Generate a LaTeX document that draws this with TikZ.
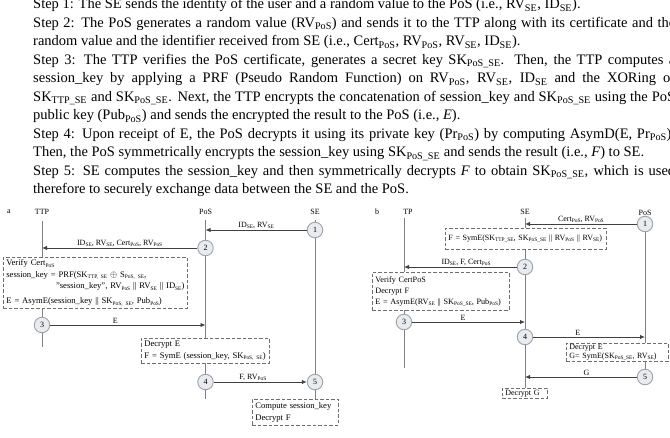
\documentclass[tikz,border=0pt]{standalone}
\usepackage{fontspec}
\setmainfont{Liberation Serif}
\usetikzlibrary{arrows.meta,backgrounds}
\definecolor{lifec}{HTML}{808080}
\definecolor{arrc}{HTML}{404040}
\definecolor{circf}{HTML}{E8EBEF}
\definecolor{circd}{HTML}{9EA3AA}
\definecolor{boxd}{HTML}{6E6E6E}
\newcommand{\sbs}[1]{\textsubscript{#1}}
\newcommand{\dsub}[1]{\raisebox{-1.3pt}{\fontsize{5.4}{6}\selectfont #1}}
\newcommand{\jline}[1]{\hbox to 642pt{#1}}
\begin{document}
\begin{tikzpicture}[x=1pt,y=-1pt,
 para/.style={anchor=base west, inner sep=0, font=\fontsize{14.5}{18}\selectfont},
 lbl/.style={font=\fontsize{8}{9}\selectfont, inner sep=0},
 msg/.style={font=\fontsize{8}{9}\selectfont, inner sep=1pt, above},
 life/.style={draw=lifec, line width=0.9pt},
 arr/.style={draw=arrc, line width=0.9pt, -{Latex[length=5pt,width=4.5pt]}},
 stepc/.style={circle, draw=circd, fill=circf, line width=0.9pt, minimum size=15.5pt, inner sep=0, font=\fontsize{8}{9}\selectfont},
 dbox/.style={draw=boxd, line width=0.8pt, dash pattern=on 3.5pt off 2pt, fill=white, anchor=north west, align=left, inner xsep=3pt, inner ysep=1pt, font=\fontsize{8}{11.5}\selectfont},
 bigbox/.style={dbox, font=\fontsize{8.6}{11.5}\selectfont},
]
\useasboundingbox (0,0) rectangle (670,438);
% ---------- text ----------
\node[para] (t1) at (33,9) {Step 1: The SE sends the identity of the user and a random value to the PoS (i.e., RV\sbs{SE}, ID\sbs{SE}).};
\node[para] (t2) at (33,27.5) {\jline{Step 2: The PoS generates a random value (RV\sbs{PoS}) and sends it to the TTP along with its certificate and the}};
\node[para] (t3) at (33,46) {random value and the identifier received from SE (i.e., Cert\sbs{PoS}, RV\sbs{PoS}, RV\sbs{SE}, ID\sbs{SE}).};
\node[para] (t4) at (33,64.5) {\jline{Step 3: The TTP verifies the PoS certificate, generates a secret key SK\sbs{PoS\_SE}. Then, the TTP computes a}};
\node[para] (t5) at (33,83) {\jline{session\_key by applying a PRF (Pseudo Random Function) on RV\sbs{PoS}, RV\sbs{SE}, ID\sbs{SE} and the XORing of}};
\node[para] (t6) at (33,101.5) {\jline{SK\sbs{TTP\_SE} and SK\sbs{PoS\_SE}. Next, the TTP encrypts the concatenation of session\_key and SK\sbs{PoS\_SE} using the PoS}};
\node[para] (t7) at (33,120) {public key (Pub\sbs{PoS}) and sends the encrypted the result to the PoS (i.e., \textit{E}).};
\node[para] (t8) at (33,138.5) {\jline{Step 4: Upon receipt of E, the PoS decrypts it using its private key (Pr\sbs{PoS}) by computing AsymD(E, Pr\sbs{PoS}).}};
\node[para] (t9) at (33,157) {Then, the PoS symmetrically encrypts the session\_key using SK\sbs{PoS\_SE} and sends the result (i.e., \textit{F}) to SE.};
\node[para] (t10) at (33,175.5) {\jline{Step 5: SE computes the session\_key and then symmetrically decrypts \textit{F} to obtain SK\sbs{PoS\_SE}, which is used}};
\node[para] (t11) at (33,194) {therefore to securely exchange data between the SE and the PoS.};
% ---------- diagram a ----------
\node[lbl] (la) at (9,212) {a};
\node[lbl] (ttpA) at (42,212) {TTP};
\node[lbl] (posA) at (205.5,212) {PoS};
\node[lbl] (seA) at (315,212) {SE};
\node[stepc] (c1a) at (315,230) {1};
\node[stepc] (c2a) at (205.5,248) {2};
\node[stepc] (c3a) at (42,325) {3};
\node[stepc] (c4a) at (205.5,382) {4};
\node[stepc] (c5a) at (315,382) {5};
\node[bigbox, text width=178pt, minimum height=51pt] (bxa1) at (3,257) {\mbox{Verify Cert\dsub{PoS}}\\
\mbox{session\_key = PRF(SK\dsub{TTP, SE} $\oplus$ S\dsub{PoS, SE},}\\
\hspace*{\fill}\mbox{"session\_key", RV\dsub{PoS} || RV\dsub{SE} || ID\dsub{SE})}\\[3.5pt]
\mbox{E = AsymE(session\_key || SK\dsub{PoS, SE}, Pub\dsub{PoS})}};
\node[bigbox, text width=122pt, minimum height=25pt] (bxa2) at (141,338) {Decrypt E\\\mbox{F = SymE (session\_key, SK\dsub{PoS, SE})}};
\node[bigbox, text width=80pt, minimum height=26pt] (bxa3) at (252,399) {\mbox{Compute session\_key}\\Decrypt F};
\coordinate (ttpAtop) at (42,221);
\coordinate (ttpAend) at (42,347);
\coordinate (posAtop) at (205.5,220);
\coordinate (posAend) at (205.5,399);
\coordinate (seAtop) at (315,220);
\begin{scope}[on background layer]
\draw[life] (ttpAtop) -- (ttpAend);
\draw[life] (posAtop) -- (posAend);
\draw[life] (seAtop) -- (bxa3.north -| seAtop);
\end{scope}
\draw[arr] (c1a.west) -- (c1a.west -| posA) node[msg, midway] {ID\dsub{SE}, RV\dsub{SE}};
\draw[arr] (c2a.west) -- (c2a.west -| ttpA) node[msg, pos=0.5] {ID\dsub{SE}, RV\dsub{SE}, Cert\dsub{PoS}, RV\dsub{PoS}};
\draw[arr] (c3a.east) -- (c3a.east -| posA) node[msg, pos=0.42] {E};
\draw[arr] (c4a.east) -- (c5a.west) node[msg, pos=0.42] {F, RV\dsub{PoS}};
% ---------- diagram b ----------
\node[lbl] (lb) at (377,212) {b};
\node[lbl] (tpB) at (408,212) {TP};
\node[lbl] (seB) at (525,212) {SE};
\node[lbl] (posB) at (645,213) {PoS};
\coordinate (tpBtop) at (404,218);
\coordinate (tpBend) at (404,368);
\coordinate (seBtop) at (525,218);
\coordinate (posBtop) at (645,219);
\node[stepc] (c1b) at (645,224) {1};
\node[stepc] (c2b) at (525,267) {2};
\node[stepc] (c3b) at (404,322) {3};
\node[stepc] (c4b) at (525,337) {4};
\node[stepc] (c5b) at (645,377) {5};
\node[dbox, text width=155pt, minimum height=21pt] (bxb1) at (445,228) {\mbox{F = SymE(SK\dsub{TTP\_SE}, SK\dsub{PoS\_SE} || RV\dsub{PoS} || RV\dsub{SE})}};
\node[dbox, text width=131pt, minimum height=38pt, font=\fontsize{8.2}{11}\selectfont] (bxb2) at (372,272) {Verify CertPoS\\Decrypt F\\\mbox{E = AsymE(RV\dsub{SE} || SK\dsub{PoS\_SE}, Pub\dsub{PoS})}};
\node[dbox, text width=96pt, minimum height=18pt, inner ysep=0pt, font=\fontsize{8}{9}\selectfont] (bxb3) at (566,343) {Decrypt E\\\mbox{G= SymE(SK\dsub{PoS\_SE}, RV\dsub{SE})}};
\node[dbox, text width=39pt, minimum height=10pt, inner ysep=0pt] (bxb4) at (502,388) {\mbox{Decrypt G}};
\begin{scope}[on background layer]
\draw[life] (tpBtop) -- (tpBend);
\draw[life] (seBtop) -- (bxb4.north -| seBtop);
\draw[life] (posBtop) -- (c5b);
\end{scope}
\draw[arr] (c1b.west) -- (c1b.west -| seBtop) node[msg, midway] {Cert\dsub{PoS}, RV\dsub{PoS}};
\draw[arr] (c2b.west) -- (c2b.west -| tpBtop) node[msg, pos=0.45] {ID\dsub{SE}, F, Cert\dsub{PoS}};
\draw[arr] (c3b.east) -- (c3b.east -| seBtop) node[msg, pos=0.45] {E};
\draw[arr] (c4b.east) -- (c4b.east -| posBtop) node[msg, pos=0.4] {E};
\draw[arr] (c5b.west) -- (c5b.west -| seBtop) node[msg, pos=0.45] {G};
\end{tikzpicture}
\end{document}
